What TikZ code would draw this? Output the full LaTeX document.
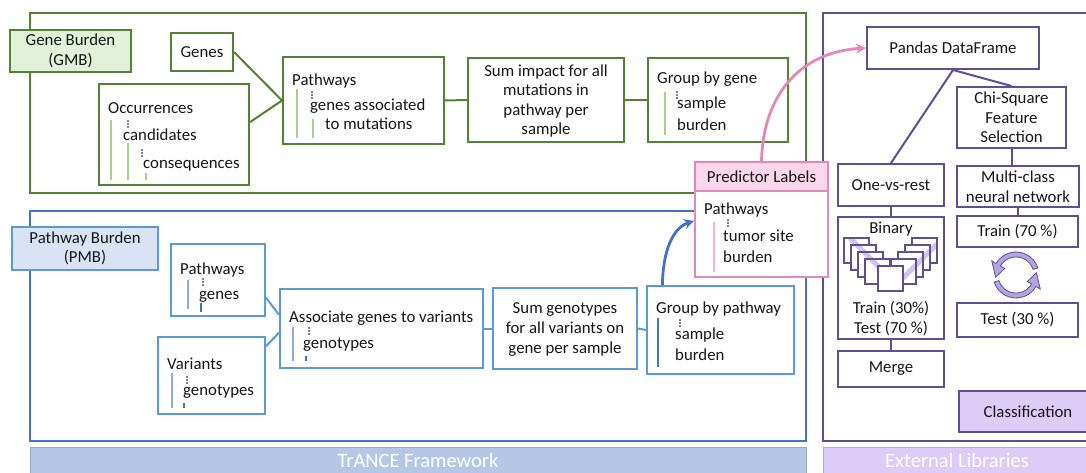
\documentclass[tikz,border=0pt]{standalone}
\usepackage{fontspec}
\setmainfont{Carlito}
\usetikzlibrary{arrows.meta,fit,calc}

\definecolor{ink}{RGB}{22,22,22}
\definecolor{gdark}{RGB}{84,130,53}
\definecolor{glite}{RGB}{169,209,142}
\definecolor{gfill}{RGB}{226,240,217}
\definecolor{bframe}{RGB}{68,114,196}
\definecolor{bbox}{RGB}{91,155,213}
\definecolor{blite}{RGB}{143,170,220}
\definecolor{bfill}{RGB}{218,227,243}
\definecolor{bbar}{RGB}{180,199,231}
\definecolor{purp}{RGB}{94,78,148}
\definecolor{pfill}{RGB}{220,204,247}
\definecolor{pstripe}{RGB}{210,195,240}
\definecolor{pcyc}{RGB}{180,165,220}
\definecolor{pink}{RGB}{228,136,184}
\definecolor{pinkfill}{RGB}{252,214,234}
\definecolor{pinklite}{RGB}{240,180,212}

\newcommand\boxfs{\fontsize{16.8}{19.6}\selectfont}
\newcommand\barfs{\fontsize{20.5}{24}\selectfont}

\begin{document}
\begin{tikzpicture}[x=1pt,y=-1pt,line join=miter,
  txt/.style={anchor=base west,inner sep=0,font=\boxfs,text=ink},
  ctxt/.style={inner sep=0,font=\boxfs,text=ink,align=center},
  gbox/.style={draw=gdark,line width=2pt,fill=white,inner sep=0},
  bbx/.style={draw=bbox,line width=2pt,fill=white,inner sep=0},
  pbx/.style={draw=purp,line width=2pt,fill=white,inner sep=0},
  pkbx/.style={draw=pink,line width=2pt,fill=white,inner sep=0},
  gconn/.style={draw=gdark,line width=2pt},
  bconn/.style={draw=bbox,line width=2pt},
  pconn/.style={draw=purp,line width=2pt},
  gtree/.style={draw=glite,line width=1.2pt},
  btree/.style={draw=blite,line width=1.2pt},
  pktree/.style={draw=pinklite,line width=1.2pt},
  tdots/.pic={\fill[black] (0,0) circle (0.8) (0,3) circle (0.8) (0,6) circle (0.8);},
  sqL/.style={fill=white,draw=purp,line width=1.1pt,
    path picture={\draw[pstripe,line width=5pt]
      ($(path picture bounding box.north west)+(6,0)$) -- ($(path picture bounding box.south east)+(0,-6)$);}},
  sqR/.style={fill=white,draw=purp,line width=1.1pt,
    path picture={\draw[pstripe,line width=5pt]
      ($(path picture bounding box.south west)+(6,0)$) -- ($(path picture bounding box.north east)+(0,6)$);}},
]
\path[use as bounding box,fill=white] (0,0) rectangle (1086,472);

% ---------- outer frames and footer bars ----------
\node[draw=gdark,line width=2pt,inner sep=0,fit={(30,13)(806,193)}] (gmbframe) {};
\node[draw=bframe,line width=2pt,inner sep=0,fit={(30,211)(806,441)}] (pmbframe) {};
\node[draw=purp,line width=2pt,inner sep=0,fit={(823,13)(1110,441)}] (extframe) {};
\node[fill=bbar,draw=bbar!85!black,line width=0.8pt,inner sep=0,fit={(30,447)(806,485)}] (trancebar) {};
\node[fill=pfill,draw=pfill!85!black,line width=0.8pt,inner sep=0,fit={(823,447)(1110,485)}] (extbar) {};
\node[anchor=base,inner sep=0,font=\barfs,text=white] (trancetxt) at (418,467) {TrANCE Framework};
\node[anchor=base,inner sep=0,font=\barfs,text=white] (exttxt) at (957,467) {External Libraries};

% ---------- Gene burden ----------
\node[gbox,fill=gfill,fit={(10,30)(131,72)}] (gmblabel) {};
\node[ctxt] (gmblabel-t) at (gmblabel.center) {Gene Burden\\(GMB)};
\node[gbox,fit={(171,33)(233,71)}] (genes) {};
\node[ctxt] (genes-t) at (genes.center) {Genes};
\node[gbox,fit={(99,84)(249,185)}] (occ) {};
\node[txt] (occ1) at (108,113) {Occurrences};
\node[txt] (occ2) at (123,140) {candidates};
\node[txt] (occ3) at (143,168) {consequences};
\draw[gtree] (111,120) -- (111,180) (128,143) -- (128,180) (146,173) -- (146,180);
\pic at (128,121) {tdots};
\pic at (142,150) {tdots};

\node[gbox,fit={(283,57)(444,144)}] (path) {};
\node[txt] (path1) at (292,85) {Pathways};
\node[txt] (path2) at (310,110) {genes associated};
\node[txt] (path3) at (325,129) {to mutations};
\draw[gtree] (297,89) -- (297,138) (313,119) -- (313,138);
\pic at (312,92) {tdots};

\node[gbox,fit={(468,58)(624,142)}] (sumg) {};
\node[ctxt] (sumg-t) at ($(sumg.center)+(0,1)$) {Sum impact for all\\mutations in\\pathway per\\sample};

\node[gbox,fit={(648,58)(788,142)}] (grpg) {};
\node[txt] (grpg1) at (657,83) {Group by gene};
\node[txt] (grpg2) at (677,108) {sample};
\node[txt] (grpg3) at (677,130) {burden};
\draw[gtree] (665,92) -- (665,135);
\pic at (677,92) {tdots};

\draw[gconn] (genes.east) -- (path.west);
\draw[gconn] ($(occ.north east)!0.38!(occ.south east)$) -- (path.west);
\draw[gconn] (path.east) -- (sumg.west);
\draw[gconn] (sumg.east) -- (grpg.west);

% ---------- Pathway burden ----------
\node[bbx,fill=bfill,fit={(12,227)(158,270)}] (pmblabel) {};
\node[ctxt] (pmblabel-t) at (pmblabel.center) {Pathway Burden\\(PMB)};
\node[bbx,fit={(171,244)(265,316)}] (pw) {};
\node[txt] (pw1) at (180,274) {Pathways};
\node[txt] (pw2) at (199,299) {genes};
\draw[btree] (188,280) -- (188,309);
\draw[draw=bframe,line width=1.2pt] (201,303) -- (201,312);
\pic at (203,279) {tdots};

\node[bbx,fit={(158,337)(265,414)}] (var) {};
\node[txt] (var1) at (167,369) {Variants};
\node[txt] (var2) at (183,395) {genotypes};
\draw[btree] (172,373) -- (172,408);
\draw[draw=gdark,line width=1.2pt] (184,403) -- (184,408);
\pic at (187,377) {tdots};

\node[bbx,fit={(280,289)(483,368)}] (assoc) {};
\node[txt] (assoc1) at (289,322) {Associate genes to variants};
\node[txt] (assoc2) at (303,348) {genotypes};
\draw[btree] (293,327) -- (293,361);
\draw[draw=bframe,line width=1.2pt] (306,356) -- (306,361);
\pic at (309,328) {tdots};

\node[bbx,fit={(493,288)(637,369)}] (sumv) {};
\node[ctxt] (sumv-t) at ($(sumv.center)+(0,1)$) {Sum genotypes\\for all variants on\\gene per sample};

\node[bbx,fit={(647,286)(794,374)}] (grpp) {};
\node[txt] (grpp1) at (656,313) {Group by pathway};
\node[txt] (grpp2) at (675,339) {sample};
\node[txt] (grpp3) at (675,360) {burden};
\draw[draw=bframe,line width=1.2pt] (658,318) -- (658,367);
\pic at (680,320) {tdots};

\draw[bconn] ($(pw.north east)!0.74!(pw.south east)$) -- ($(assoc.north west)!0.33!(assoc.south west)$);
\draw[bconn] ($(var.north east)!0.13!(var.south east)$) -- ($(assoc.north west)!0.55!(assoc.south west)$);
\draw[bconn] (assoc.east) -- (sumv.west);
\draw[bconn] (sumv.east) -- (grpp.west);

% ---------- Predictor labels ----------
\node[pkbx,fit={(695,191)(828,277)}] (predbody) {};
\node[pkbx,fill=pinkfill,fit={(695,162)(828,191)}] (predhead) {};
\node[ctxt] (predhead-t) at (predhead.center) {Predictor Labels};
\node[txt] (pred1) at (704,214) {Pathways};
\node[txt] (pred2) at (723,241) {tumor site};
\node[txt] (pred3) at (723,262) {burden};
\draw[pktree] (714,222) -- (714,272);
\pic at (728,220) {tdots};

\draw[bframe,line width=2.8pt,-{Stealth[length=10pt,width=10pt]}]
  ($(grpp.north west)!0.11!(grpp.north east)$) .. controls (663,250) and (673,228) ..
  ($(predbody.north west)!0.35!(predbody.south west)$);

% ---------- External libraries ----------
\node[pbx,fit={(867,27)(1039,69)}] (pandas) {};
\node[ctxt] (pandas-t) at (pandas.center) {Pandas DataFrame};
\node[pbx,fit={(957,87)(1066,148)}] (chi) {};
\node[ctxt] (chi-t) at (chi.center) {Chi-Square\\Feature\\Selection};
\node[pbx,fit={(838,164)(944,206)}] (ovr) {};
\node[ctxt] (ovr-t) at (ovr.center) {One-vs-rest};
\node[pbx,fit={(957,166)(1079,207)}] (mc) {};
\node[ctxt] (mc-t) at (mc.center) {Multi-class\\neural network};
\node[pbx,fit={(838,217)(944,339)}] (bin) {};
\node[ctxt] (bin1) at (891,229) {Binary};
\node[ctxt] (bin2) at (891,318.5) {Train (30\%)\\Test (70 \%)};
\node[pbx,fit={(957,216)(1078,247)}] (tr70) {};
\node[ctxt] (tr70-t) at (tr70.center) {Train (70 \%)};
\node[pbx,fit={(957,303)(1078,337)}] (te30) {};
\node[ctxt] (te30-t) at (te30.center) {Test (30 \%)};
\node[pbx,fit={(838,351)(944,387)}] (merge) {};
\node[ctxt] (merge-t) at (merge.center) {Merge};
\node[pbx,fill=pfill,line width=2.6pt,fit={(959,391)(1097,432)}] (classif) {};
\node[ctxt] (classif-t) at (1028,411.5) {Classification};

% stacked binary-model icon
\foreach \sx/\sy in {844/238,851/245,858/252,865/259}
  \draw[sqL] (\sx,\sy) rectangle ++(25,25);
\foreach \sx/\sy in {912/238,905/245,898/252,891/259}
  \draw[sqR] (\sx,\sy) rectangle ++(25,25);
\draw[fill=white,draw=purp,line width=1.1pt] (878,266) rectangle ++(25,25);

% train/test cycle arrows
\coordinate (cyc) at (1016,275);
\filldraw[fill=pcyc,draw=purp,line width=0.8pt]
  ($(cyc)+(-18:23)$) arc[start angle=-18,end angle=-150,radius=23]
  -- ($(cyc)+(-150:28)$) -- ($(cyc)+(-186:20.5)$) -- ($(cyc)+(-150:13)$)
  -- ($(cyc)+(-150:18)$) arc[start angle=-150,end angle=-18,radius=18] -- cycle;
\filldraw[fill=pcyc,draw=purp,line width=0.8pt]
  ($(cyc)+(162:23)$) arc[start angle=162,end angle=30,radius=23]
  -- ($(cyc)+(30:28)$) -- ($(cyc)+(-6:20.5)$) -- ($(cyc)+(30:13)$)
  -- ($(cyc)+(30:18)$) arc[start angle=30,end angle=162,radius=18] -- cycle;

\draw[pconn] (pandas.south) -- (ovr.north);
\draw[pconn] (pandas.south) -- (chi.north);
\draw[pconn] (chi.south) -- (chi.south |- mc.north);
\draw[pconn] (mc.south) -- (mc.south |- tr70.north);
\draw[pconn] (ovr.south) -- (bin.north);
\draw[pconn] (bin.south) -- (merge.north);

% hand-off from the predictor labels to the data frame
\draw[pink,line width=2.8pt,-{Stealth[length=10pt,width=10pt]}]
  ($(predhead.north west)!0.5!(predhead.north east)$) .. controls (763,95) and (800,52) .. (pandas.west);
\end{tikzpicture}
\end{document}
